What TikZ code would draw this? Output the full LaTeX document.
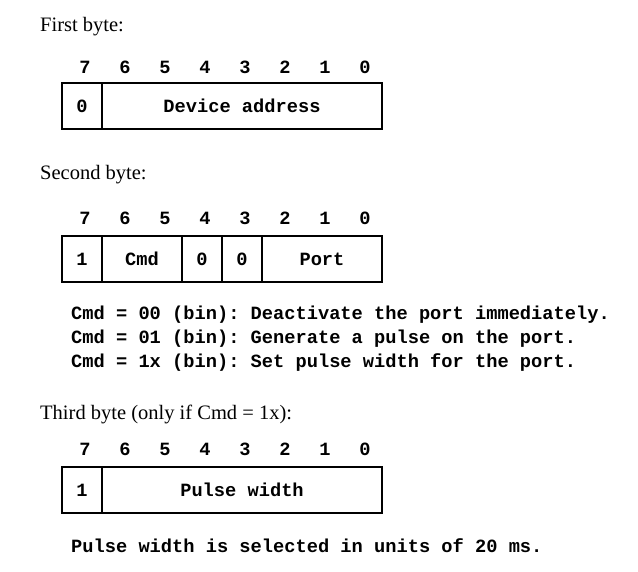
\documentclass[tikz,border=0pt]{standalone}
\usepackage{fontspec}
\setmainfont{Liberation Serif}
\setmonofont{Liberation Mono}
\usepackage{tikz}

\begin{document}
\begin{tikzpicture}[x=1pt,y=-1pt]
            \tikzstyle{field}=[rectangle,draw=black,line width=2pt,minimum height=46pt,inner sep=0pt,font=\ttfamily\bfseries\fontsize{18.7}{20}\selectfont]
            \tikzstyle{bit}=[inner sep=0pt,font=\ttfamily\bfseries\fontsize{18.7}{20}\selectfont]
            \tikzstyle{heading}=[anchor=base west,inner sep=0pt,font=\fontsize{20.5}{24}\selectfont]
            \tikzstyle{note}=[anchor=base west,inner sep=0pt,font=\ttfamily\bfseries\fontsize{18.7}{20}\selectfont]

                \useasboundingbox (0,0) rectangle (638,572);

                % first byte
                \node[heading] (H-1) at (40,32) {First byte:};
                \foreach \b in {0,...,7}
                    \node[bit] (A-\b) at ({365-40*\b},67) {\b};
                \node[field,minimum width=40pt] (A-addr0) at (82,106) {0};
                \node[field,minimum width=280pt] (A-addr) at (242,106) {Device address};

                % second byte
                \node[heading] (H-2) at (40,180) {Second byte:};
                \foreach \b in {0,...,7}
                    \node[bit] (B-\b) at ({365-40*\b},218) {\b};
                \node[field,minimum width=40pt] (B-one) at (82,259) {1};
                \node[field,minimum width=80pt] (B-cmd) at (142,259) {Cmd};
                \node[field,minimum width=40pt] (B-zero4) at (202,259) {0};
                \node[field,minimum width=40pt] (B-zero3) at (242,259) {0};
                \node[field,minimum width=120pt] (B-port) at (322,259) {Port};

                \node[note] (N-1) at (71,320) {Cmd = 00 (bin): Deactivate the port immediately.};
                \node[note] (N-2) at (71,344) {Cmd = 01 (bin): Generate a pulse on the port.};
                \node[note] (N-3) at (71,368) {Cmd = 1x (bin): Set pulse width for the port.};

                % third byte
                \node[heading] (H-3) at (40,419) {Third byte (only if Cmd = 1x):};
                \foreach \b in {0,...,7}
                    \node[bit] (C-\b) at ({365-40*\b},449) {\b};
                \node[field,minimum width=40pt] (C-one) at (82,490) {1};
                \node[field,minimum width=280pt] (C-width) at (242,490) {Pulse width};

                \node[note] (N-4) at (71,552) {Pulse width is selected in units of 20 ms.};
        \end{tikzpicture}
\end{document}
